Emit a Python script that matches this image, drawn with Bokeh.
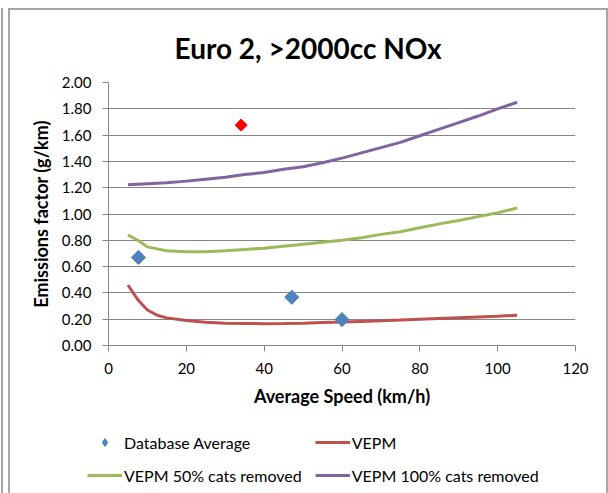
from bokeh.plotting import figure
from bokeh.layouts import column
from bokeh.models import Legend, LegendItem, FixedTicker, NumeralTickFormatter, Range1d
from bokeh.embed import file_html
from bokeh.resources import INLINE
import math

# Average speed (km/h) for the VEPM curves
speed = [5, 7.5, 10, 12.5, 15, 20, 25, 30, 35, 40, 45, 50, 55, 60,
         65, 70, 75, 80, 85, 90, 95, 100, 105]
# NOx emission factors (g/km)
vepm = [0.46, 0.35, 0.27, 0.23, 0.21, 0.19, 0.177, 0.17, 0.167, 0.166, 0.167,
        0.17, 0.174, 0.178, 0.183, 0.188, 0.193, 0.199, 0.205, 0.211, 0.217,
        0.223, 0.23]
vepm_50 = [0.84, 0.80, 0.75, 0.735, 0.72, 0.713, 0.713, 0.72, 0.73, 0.74,
           0.755, 0.77, 0.785, 0.80, 0.82, 0.845, 0.865, 0.895, 0.925, 0.95,
           0.98, 1.01, 1.045]
vepm_100 = [1.222, 1.226, 1.23, 1.234, 1.238, 1.25, 1.265, 1.28, 1.30, 1.315,
            1.34, 1.36, 1.39, 1.425, 1.465, 1.505, 1.545, 1.595, 1.645, 1.695,
            1.745, 1.80, 1.85]

# Database averages
db_speed = [7.7, 47.1, 60.0]
db_nox = [0.67, 0.367, 0.197]
# Single highlighted measurement
hi_speed = [34.1]
hi_nox = [1.676]

x_ticks = [0, 20, 40, 60, 80, 100, 120]
y_ticks = [0.0, 0.2, 0.4, 0.6, 0.8, 1.0, 1.2, 1.4, 1.6, 1.8, 2.0]

series_labels = ["Database Average", "VEPM", "VEPM 50% cats removed", "VEPM 100% cats removed"]

FONT = "Lato"
GRID = "#868686"
FRAME = "#a6a6a6"
C_DB = "#4F81BD"
C_HI = "#FF0000"
C_VEPM = "#C0504D"
C_50 = "#9BBB59"
C_100 = "#8064A2"
DIAMOND = math.pi / 4

# ---- main chart -------------------------------------------------------
p = figure(
    width=596, height=410,
    frame_width=467, frame_height=263,
    min_border_left=98, min_border_top=72, min_border_right=31, min_border_bottom=75,
    x_range=Range1d(0, 120), y_range=Range1d(0, 2.0),
    output_backend="svg", toolbar_location=None,
    title="Euro 2, >2000cc NOx",
)
p.outline_line_color = None
p.background_fill_color = "white"
p.border_fill_color = "white"

p.title.text_font = FONT
p.title.text_font_size = "28px"
p.title.text_font_style = "bold"
p.title.text_color = "black"
p.title.align = "left"
p.title.offset = 66
p.title.standoff = 35

p.xgrid.grid_line_color = None
p.ygrid.grid_line_color = GRID
p.ygrid.grid_line_width = 1

for ax in (p.xaxis[0], p.yaxis[0]):
    ax.axis_line_color = GRID
    ax.major_tick_line_color = GRID
    ax.minor_tick_line_color = None
    ax.major_tick_in = 0
    ax.major_tick_out = 6
    ax.major_label_text_font = FONT
    ax.major_label_text_font_size = "15px"
    ax.major_label_text_color = "black"
    ax.axis_label_text_font = FONT
    ax.axis_label_text_font_size = "18px"
    ax.axis_label_text_font_style = "bold"
    ax.axis_label_text_color = "black"

p.xaxis.ticker = FixedTicker(ticks=x_ticks)
p.yaxis.ticker = FixedTicker(ticks=y_ticks)
p.yaxis.formatter = NumeralTickFormatter(format="0.00")
p.xaxis.axis_label = "Average Speed (km/h)"
p.yaxis.axis_label = "Emissions factor (g/km)"
p.xaxis.major_label_standoff = 11
p.yaxis.major_label_standoff = 11
p.xaxis.axis_label_standoff = 8
p.yaxis.axis_label_standoff = 7

p.line(speed, vepm, line_color=C_VEPM, line_width=3)
p.line(speed, vepm_50, line_color=C_50, line_width=3)
p.line(speed, vepm_100, line_color=C_100, line_width=3)
p.scatter(db_speed, db_nox, marker="square", angle=DIAMOND, size=10,
          fill_color=C_DB, line_color=C_DB)
p.scatter(hi_speed, hi_nox, marker="square", angle=DIAMOND, size=8.5,
          fill_color=C_HI, line_color=C_HI)

# ---- legend strip underneath the chart --------------------------------
lg = figure(
    width=596, height=73,
    frame_width=596, frame_height=73,
    x_range=Range1d(0, 1), y_range=Range1d(0, 1),
    min_border_left=0, min_border_right=0, min_border_top=0, min_border_bottom=0,
    output_backend="svg", toolbar_location=None,
    x_axis_type=None, y_axis_type=None,
)
lg.outline_line_color = None
lg.grid.visible = False
lg.border_fill_color = "white"

nan = [float("nan")]
k_db = lg.scatter(nan, nan, marker="diamond", size=10,
                  fill_color=C_DB, line_color=C_DB)
k_vepm = lg.line(nan, nan, line_color=C_VEPM, line_width=3)
k_50 = lg.line(nan, nan, line_color=C_50, line_width=3)
k_100 = lg.line(nan, nan, line_color=C_100, line_width=3)
keys = dict(zip(series_labels, [k_db, k_vepm, k_50, k_100]))

# two columns filled column by column: left holds the 1st and 3rd entries
order = [series_labels[0], series_labels[2], series_labels[1], series_labels[3]]

legend = Legend(
    items=[LegendItem(label=lab, renderers=[keys[lab]]) for lab in order],
    ncols=2,
    location=(77, 8),
    spacing=13,
    padding=0,
    margin=0,
    glyph_width=35,
    glyph_height=20,
    label_height=20,
    label_standoff=2,
    label_text_font=FONT,
    label_text_font_size="16px",
    label_text_color="black",
    border_line_color=None,
    background_fill_alpha=0,
)
lg.add_layout(legend, "center")

page = column(
    p, lg, spacing=0,
    styles={"margin-left": "8px", "margin-top": "8px",
            "border": f"2px solid {FRAME}", "border-bottom": "none",
            "box-shadow": f"-5px 0 0 0 white, -7px 0 0 0 {FRAME}"},
)

open("out.html", "w").write(file_html(page, INLINE))
